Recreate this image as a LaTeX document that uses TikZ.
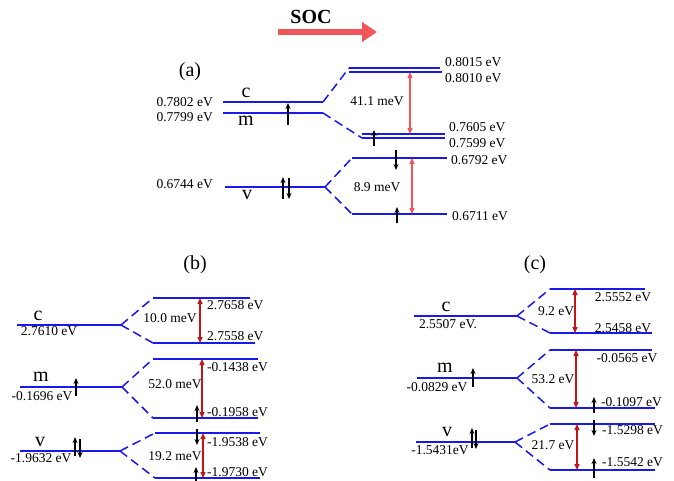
\documentclass[tikz,border=0pt]{standalone}
\usepackage{fontspec}
\setmainfont{Liberation Serif}
\usetikzlibrary{arrows.meta}
\definecolor{lvl}{RGB}{25,25,235}
\definecolor{socred}{RGB}{240,85,90}
\definecolor{dred}{RGB}{195,20,25}
\tikzset{
  level/.style={draw=lvl, line width=1.5pt},
  thin level/.style={draw=lvl, line width=1.5pt},
  link/.style={draw=lvl, line width=1.5pt, dash pattern=on 9pt off 5pt},
  spin/.style={-{Stealth[length=6pt,width=5pt]}, line width=1.2pt, draw=black},
  gapA/.style={{Triangle[length=6pt,width=5pt]}-{Triangle[length=6pt,width=5pt]}, draw=socred, line width=1.2pt},
  gapB/.style={{Triangle[length=6pt,width=5pt]}-{Triangle[length=6pt,width=5pt]}, draw=dred, line width=1.2pt},
  val/.style={font=\fontsize{13.5}{15}\selectfont, inner sep=0pt},
  orb/.style={font=\fontsize{20}{22}\selectfont, inner sep=0pt},
  panel/.style={font=\fontsize{20}{22}\selectfont, inner sep=0pt},
}
\begin{document}
\begin{tikzpicture}[x=1pt,y=-1pt]
\useasboundingbox[fill=white] (0,0) rectangle (674,481);

% ---------------- SOC arrow ----------------
\node[font=\bfseries\fontsize{20}{22}\selectfont, inner sep=0pt] (soc) at (311,17) {SOC};
\coordinate (socA) at (278,32);
\coordinate (socB) at (377,32);
\draw[draw=socred, line width=6pt, -{Triangle[length=15pt,width=19pt]}] (socA) -- (socB);

% ---------------- panel (a) ----------------
\node[panel] (la) at (190,72) {(a)};
\draw[level] (223,102) coordinate (acL) -- (323,102) coordinate (acR);
\draw[level] (223,113) coordinate (amL) -- (323,113) coordinate (amR);
\draw[level] (225,187) coordinate (avL) -- (325,187) coordinate (avR);
\draw[thin level] (349,68) coordinate (a1L) -- (440,68) coordinate (a1R);
\draw[thin level] (349,72) coordinate (a2L) -- (442,72) coordinate (a2R);
\draw[thin level] (362,134) coordinate (a3L) -- (445,134) coordinate (a3R);
\draw[thin level] (362,138) coordinate (a4L) -- (445,138) coordinate (a4R);
\draw[level] (352,158) coordinate (a5L) -- (447,158) coordinate (a5R);
\draw[level] (352,214) coordinate (a6L) -- (447,214) coordinate (a6R);
\draw[link] (acR) -- (a1L);
\draw[link] (amR) -- (a4L);
\draw[link] (avR) -- (a5L);
\draw[link] (avR) -- (a6L);

\node[orb] (ac) at (246,93) {c};
\node[orb] (am) at (246,121) {m};
\node[orb] (av) at (247,195) {v};
\node[val, anchor=east] (t1) at (213,102) {0.7802 eV};
\node[val, anchor=east] (t2) at (213,117) {0.7799 eV};
\node[val, anchor=east] (t3) at (213,184) {0.6744 eV};
\node[val, anchor=west] (t4) at (445,62) {0.8015 eV};
\node[val, anchor=west] (t5) at (445,78) {0.8010 eV};
\node[val, anchor=west] (t6) at (449,127) {0.7605 eV};
\node[val, anchor=west] (t7) at (449,143) {0.7599 eV};
\node[val, anchor=west] (t8) at (451,160) {0.6792 eV};
\node[val, anchor=west] (t9) at (452,216) {0.6711 eV};
\node[val] (ga) at (377,101) {41.1 meV};
\node[val] (gb) at (377,187) {8.9 meV};

\coordinate (ra1) at (410,72);
\coordinate (ra2) at (410,134);
\draw[gapA] (ra1) -- (ra2);
\coordinate (ra3) at (412,158);
\coordinate (ra4) at (412,214);
\draw[gapA] (ra3) -- (ra4);

\draw[spin] (288,125) coordinate (sa1) -- (288,103) coordinate (sa2);
\draw[spin] (283,199) coordinate (sa3) -- (283,177) coordinate (sa4);
\draw[spin] (289,178) coordinate (sa5) -- (289,199) coordinate (sa6);
\draw[spin] (374,146) coordinate (sa7) -- (374,130) coordinate (sa8);
\draw[spin] (396,150) coordinate (sa9) -- (396,170) coordinate (sa10);
\draw[spin] (397,223) coordinate (sa11) -- (397,207) coordinate (sa12);

% ---------------- panel (b) ----------------
\node[panel] (lb) at (195,265) {(b)};
\draw[level] (17,325) coordinate (bcL) -- (121,325) coordinate (bcR);
\draw[level] (20,387) coordinate (bmL) -- (122,387) coordinate (bmR);
\draw[level] (20,451) coordinate (bvL) -- (120,451) coordinate (bvR);
\draw[level] (153,298) coordinate (b1L) -- (250,298) coordinate (b1R);
\draw[level] (153,343) coordinate (b2L) -- (255,343) coordinate (b2R);
\draw[level] (153,359) coordinate (b3L) -- (258,359) coordinate (b3R);
\draw[level] (153,418) coordinate (b4L) -- (258,418) coordinate (b4R);
\draw[level] (155,433) coordinate (b5L) -- (260,433) coordinate (b5R);
\draw[level] (155,478) coordinate (b6L) -- (260,478) coordinate (b6R);
\draw[link] (bcR) -- (b1L);
\draw[link] (bcR) -- (b2L);
\draw[link] (bmR) -- (b3L);
\draw[link] (bmR) -- (b4L);
\draw[link] (bvR) -- (b5L);
\draw[link] (bvR) -- (b6L);

\node[orb] (bc) at (38,316) {c};
\node[orb] (bm) at (41,377) {m};
\node[orb] (bv) at (40,442) {v};
\node[val] (u1) at (49,331) {2.7610 eV};
\node[val] (u2) at (42,396) {-0.1696 eV};
\node[val] (u3) at (41,458) {-1.9632 eV};
\node[val, anchor=west] (u4) at (207,305) {2.7658 eV};
\node[val, anchor=west] (u5) at (207,336) {2.7558 eV};
\node[val, anchor=west] (u6) at (207,367) {-0.1438 eV};
\node[val, anchor=west] (u7) at (207,412) {-0.1958 eV};
\node[val, anchor=west] (u8) at (207,442) {-1.9538 eV};
\node[val, anchor=west] (u9) at (207,472) {-1.9730 eV};
\node[val] (gc) at (170,318) {10.0 meV};
\node[val] (gd) at (175,384) {52.0 meV};
\node[val] (ge) at (175,456) {19.2 meV};

\coordinate (rb1) at (200,298);
\coordinate (rb2) at (200,343);
\draw[gapB] (rb1) -- (rb2);
\coordinate (rb3) at (202,359);
\coordinate (rb4) at (202,418);
\draw[gapB] (rb3) -- (rb4);
\coordinate (rb5) at (203,433);
\coordinate (rb6) at (203,478);
\draw[gapB] (rb5) -- (rb6);

\draw[spin] (76,396) coordinate (sb1) -- (76,378) coordinate (sb2);
\draw[spin] (75,456) coordinate (sb3) -- (75,437) coordinate (sb4);
\draw[spin] (80,439) coordinate (sb5) -- (80,458) coordinate (sb6);
\draw[spin] (197,422) coordinate (sb7) -- (197,405) coordinate (sb8);
\draw[spin] (197,429) coordinate (sb9) -- (197,445) coordinate (sb10);
\draw[spin] (196,481) coordinate (sb11) -- (196,467) coordinate (sb12);

% ---------------- panel (c) ----------------
\node[panel] (lc) at (535,265) {(c)};
\draw[level] (414,316) coordinate (ccL) -- (517,316) coordinate (ccR);
\draw[level] (417,378) coordinate (cmL) -- (517,378) coordinate (cmR);
\draw[level] (416,442) coordinate (cvL) -- (515,442) coordinate (cvR);
\draw[level] (550,289) coordinate (c1L) -- (645,289) coordinate (c1R);
\draw[level] (550,333) coordinate (c2L) -- (652,333) coordinate (c2R);
\draw[level] (550,350) coordinate (c3L) -- (652,350) coordinate (c3R);
\draw[level] (550,408) coordinate (c4L) -- (655,408) coordinate (c4R);
\draw[level] (550,424) coordinate (c5L) -- (655,424) coordinate (c5R);
\draw[level] (550,470) coordinate (c6L) -- (655,470) coordinate (c6R);
\draw[link] (ccR) -- (c1L);
\draw[link] (ccR) -- (c2L);
\draw[link] (cmR) -- (c3L);
\draw[link] (cmR) -- (c4L);
\draw[link] (cvR) -- (c5L);
\draw[link] (cvR) -- (c6L);

\node[orb] (cc) at (446,307) {c};
\node[orb] (cm) at (445,368) {m};
\node[orb] (cv) at (447,432) {v};
\node[val] (w1) at (448,324) {2.5507 eV.};
\node[val] (w2) at (437,387) {-0.0829 eV};
\node[val] (w3) at (440,450) {-1.5431eV};
\node[val] (w4) at (623,297) {2.5552 eV};
\node[val] (w5) at (623,328) {2.5458 eV};
\node[val] (w6) at (627,358) {-0.0565 eV};
\node[val, anchor=west] (w7) at (601,402) {-0.1097 eV};
\node[val, anchor=west] (w8) at (602,430) {-1.5298 eV};
\node[val, anchor=west] (w9) at (602,462) {-1.5542 eV};
\node[val] (gf) at (556,311) {9.2 eV};
\node[val] (gg) at (553,379) {53.2 eV};
\node[val] (gh) at (553,445) {21.7 eV};

\coordinate (rc1) at (575,289);
\coordinate (rc2) at (575,333);
\draw[gapB] (rc1) -- (rc2);
\coordinate (rc3) at (576,350);
\coordinate (rc4) at (576,408);
\draw[gapB] (rc3) -- (rc4);
\coordinate (rc5) at (577,424);
\coordinate (rc6) at (577,470);
\draw[gapB] (rc5) -- (rc6);

\draw[spin] (473,387) coordinate (sc1) -- (473,368) coordinate (sc2);
\draw[spin] (472,448) coordinate (sc3) -- (472,428) coordinate (sc4);
\draw[spin] (476,430) coordinate (sc5) -- (476,449) coordinate (sc6);
\draw[spin] (594,413) coordinate (sc7) -- (594,397) coordinate (sc8);
\draw[spin] (594,420) coordinate (sc9) -- (594,436) coordinate (sc10);
\draw[spin] (594,478) coordinate (sc11) -- (594,458) coordinate (sc12);
\end{tikzpicture}
\end{document}
